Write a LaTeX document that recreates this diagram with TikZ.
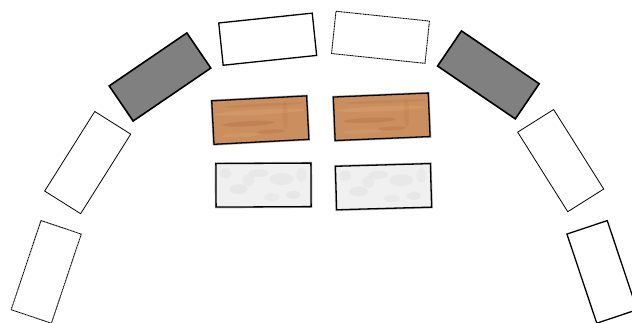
\documentclass[tikz,border=0pt]{standalone}
\usetikzlibrary{calc}
\definecolor{woodc}{RGB}{203,142,95}
\definecolor{woodd}{RGB}{170,104,55}
\definecolor{woodl}{RGB}{220,166,122}
\definecolor{marc}{RGB}{240,240,240}
\definecolor{mard}{RGB}{215,215,215}
\definecolor{grayc}{RGB}{128,128,128}
\begin{document}
\begin{tikzpicture}[x=1pt,y=-1pt,
  blk/.style={rectangle, inner sep=0pt, minimum width=94pt, minimum height=42.5pt},
  thinbox/.style={blk, draw=black, line width=0.8pt, fill=white},
  thickbox/.style={blk, draw=black, line width=1.3pt, fill=white},
  dotbox/.style={blk, draw=black, line width=0.9pt, dash pattern=on 1.1pt off 0.5pt, fill=white},
  graybox/.style={blk, draw=black, line width=1.6pt, fill=grayc},
  woodbox/.style={blk, minimum width=95pt, minimum height=43.5pt, draw=black, line width=1.3pt, fill=woodc,
    preaction={draw=black!30, line width=2.6pt},
    path picture={
      \fill[woodd, opacity=0.3] ([shift={(-12pt,-3pt)}]path picture bounding box.center) ellipse [x radius=26pt, y radius=2.5pt];
      \fill[woodd, opacity=0.25] ([shift={(10pt,-12pt)}]path picture bounding box.center) ellipse [x radius=14pt, y radius=2pt];
      \fill[woodl, opacity=0.4] ([shift={(0pt,8pt)}]path picture bounding box.center) ellipse [x radius=45pt, y radius=2.5pt];
      \fill[woodl, opacity=0.3] ([shift={(-20pt,-14pt)}]path picture bounding box.center) ellipse [x radius=20pt, y radius=2pt];
      \fill[woodd, opacity=0.15] ([shift={(25pt,3pt)}]path picture bounding box.center) ellipse [x radius=2.5pt, y radius=14pt];
      \fill[woodd, opacity=0.2] ([shift={(5pt,15pt)}]path picture bounding box.center) ellipse [x radius=40pt, y radius=1.5pt];
    }},
  marbox/.style={blk, minimum width=95pt, minimum height=43.5pt, draw=black, line width=1.3pt, fill=marc,
    preaction={draw=black!30, line width=2.6pt},
    path picture={
      \fill[mard, opacity=0.35] ([shift={(-25pt,-4pt)}]path picture bounding box.center) ellipse [x radius=9pt, y radius=5pt];
      \fill[mard, opacity=0.3] ([shift={(18pt,6pt)}]path picture bounding box.center) ellipse [x radius=12pt, y radius=6pt];
      \fill[mard, opacity=0.35] ([shift={(30pt,-10pt)}]path picture bounding box.center) ellipse [x radius=7pt, y radius=4pt];
      \fill[mard, opacity=0.3] ([shift={(-5pt,12pt)}]path picture bounding box.center) ellipse [x radius=10pt, y radius=4pt];
      \fill[mard, opacity=0.3] ([shift={(-38pt,12pt)}]path picture bounding box.center) ellipse [x radius=6pt, y radius=5pt];
      \fill[mard, opacity=0.25] ([shift={(8pt,-12pt)}]path picture bounding box.center) ellipse [x radius=8pt, y radius=4pt];
      \fill[mard, opacity=0.25] ([shift={(-15pt,5pt)}]path picture bounding box.center) ellipse [x radius=6pt, y radius=6pt];
      \fill[mard, opacity=0.25] ([shift={(38pt,10pt)}]path picture bounding box.center) ellipse [x radius=5pt, y radius=7pt];
    }}
]
\useasboundingbox (0,0) rectangle (632,323);
\begin{scope}
\clip (0,0) rectangle (632,323);
% arc of blocks
\node[thickbox, rotate=6]     (tl) at (267.7,39.2) {};
\node[dotbox,   rotate=-6]    (tr) at (380.5,37.3) {};
\node[graybox,  rotate=34.3]  (gl) at (160.0,77.0) {};
\node[graybox,  rotate=-34.2] (gr) at (488.4,74.9) {};
\node[thinbox,  rotate=57.8]  (wl) at (87.7,162.6) {};
\node[thinbox,  rotate=-57.8] (wr) at (560.7,160.6) {};
\node[dotbox,   rotate=71.5]  (bl) at (46.2,271.9) {};
\node[thickbox, rotate=-71.5] (br) at (602.0,271.9) {};
% middle rows
\node[woodbox, rotate=3]   (w1) at (260.3,120.1) {};
\node[woodbox, rotate=2.4] (w2) at (381.7,116.8) {};
\node[marbox,  rotate=0.3] (m1) at (263.5,185.1) {};
\node[marbox,  rotate=1.6] (m2) at (383.5,186.7) {};
\end{scope}
\end{tikzpicture}
\end{document}
